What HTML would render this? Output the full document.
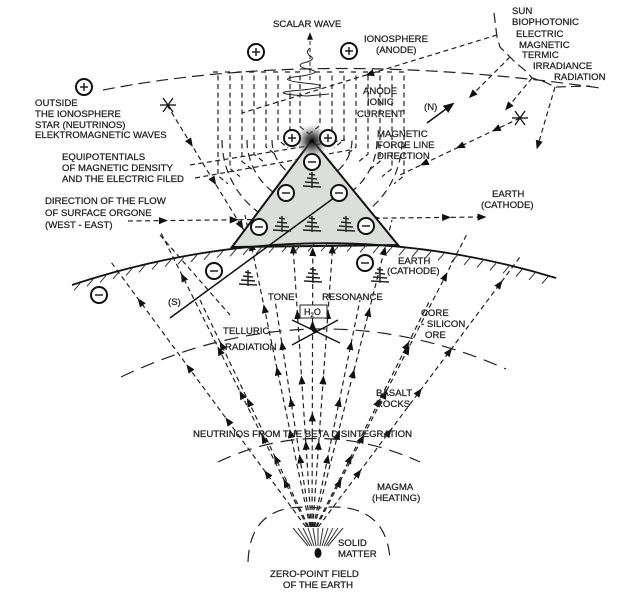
<!DOCTYPE html>
<html><head><meta charset="utf-8">
<style>
html,body{margin:0;padding:0;background:#fff;}
svg{display:block;}
text{font-family:"Liberation Sans",sans-serif;font-size:9.6px;fill:#222;stroke:#222;stroke-width:0.25;}
</style></head>
<body>
<svg id="s" width="629" height="598" viewBox="0 0 629 598" xmlns="http://www.w3.org/2000/svg">
<defs>
<marker id="a" viewBox="0 0 10 10" refX="5" refY="5" markerWidth="7.5" markerHeight="7.5" orient="auto">
<path d="M0,1 L10,5 L0,9 z" fill="#111"/></marker>
<radialGradient id="g"><stop offset="0" stop-color="#000"/><stop offset="0.35" stop-color="#333" stop-opacity="0.8"/><stop offset="1" stop-color="#888" stop-opacity="0"/></radialGradient>
</defs>
<g id="L" fill="none" stroke="#222" stroke-width="1.2" stroke-dasharray="5,3.5"></g>
<polygon points="312,140 232,247 398,245" fill="#dcdedb" stroke="#111" stroke-width="2"/>
<circle cx="312" cy="141" r="17" fill="url(#g)"/>
<path d="M72,285 Q315,205 556,278" fill="none" stroke="#111" stroke-width="1.8"/>
<g id="H" stroke="#333" stroke-width="1"></g>
<line x1="170" y1="318" x2="342" y2="192" stroke="#111" stroke-width="1.5"/>
<line x1="427" y1="123" x2="450" y2="106" stroke="#111" stroke-width="1.5" marker-end="url(#a)"/>
<line x1="310" y1="80" x2="310" y2="36" stroke="#222" stroke-width="1" stroke-dasharray="4,3" marker-end="url(#a)"/>
<path d="M310,48 q-5,4 0,8 q6,3 -3,6 q-14,3 0,7 q18,3 -5,7 q-30,3 2,7 q34,3 -2,7 q-40,3 5,6 l22,-2" fill="none" stroke="#222" stroke-width="1"/>
<rect x="300" y="305" width="27" height="13" fill="#fff" stroke="#222" stroke-width="1"/>
<text x="304" y="315" style="font-size:9px">H<tspan style="font-size:6px" dy="2">2</tspan><tspan dy="-2">O</tspan></text>
<line x1="292" y1="320" x2="340" y2="343" stroke="#111" stroke-width="1.3"/>
<line x1="338" y1="320" x2="292" y2="345" stroke="#111" stroke-width="1.3"/>
<circle cx="315" cy="331" r="2.2" fill="#111"/>
<ellipse cx="318" cy="553" rx="3.5" ry="5" fill="#111"/>
<g id="C"></g>
<g stroke="#111" stroke-width="1.3">
<line x1="160" y1="105" x2="176" y2="105"/><line x1="163" y1="98" x2="173" y2="112"/><line x1="173" y1="98" x2="163" y2="112"/>
<line x1="512" y1="118" x2="528" y2="118"/><line x1="515" y1="111" x2="525" y2="125"/><line x1="525" y1="111" x2="515" y2="125"/>
</g>
<text x="273" y="27">SCALAR WAVE</text>
<text x="364" y="42">IONOSPHERE</text><text x="376" y="53">(ANODE)</text>
<text x="512" y="14">SUN</text><text x="512" y="25">BIOPHOTONIC</text><text x="516" y="37">ELECTRIC</text>
<text x="519" y="48">MAGNETIC</text><text x="522" y="58">TERMIC</text><text x="533" y="69">IRRADIANCE</text><text x="554" y="80">RADIATION</text>
<text x="363" y="94">ANODE</text><text x="367" y="105">IONIC</text><text x="357" y="117">CURRENT</text>
<text x="424" y="110">(N)</text>
<text x="377" y="137">MAGNETIC</text><text x="377" y="148">FORCE LINE</text><text x="377" y="159">DIRECTION</text>
<text x="35" y="106">OUTSIDE</text><text x="35" y="117">THE IONOSPHERE</text><text x="35" y="128">STAR (NEUTRINOS)</text><text x="35" y="138">ELEKTROMAGNETIC WAVES</text>
<text x="62" y="160">EQUIPOTENTIALS</text><text x="62" y="171">OF MAGNETIC DENSITY</text><text x="62" y="182">AND THE ELECTRIC FILED</text>
<text x="45" y="204">DIRECTION OF THE FLOW</text><text x="45" y="216">OF SURFACE ORGONE</text><text x="45" y="228">(WEST - EAST)</text>
<text x="492" y="197">EARTH</text><text x="481" y="208">(CATHODE)</text>
<text x="398" y="264">EARTH</text><text x="387" y="274">(CATHODE)</text>
<text x="168" y="305">(S)</text>
<text x="268" y="300">TONE</text><text x="322" y="300">RESONANCE</text>
<text x="421" y="316">CORE</text><text x="421" y="327">- SILICON</text><text x="425" y="338">ORE</text>
<text x="223" y="334">TELLURIC</text><text x="225" y="350">RADIATION</text>
<text x="376" y="396">BASALT</text><text x="376" y="407">ROCKS</text>
<text x="193" y="437">NEUTRINOS FROM THE BETA DISINTEGRATION</text>
<text x="377" y="490">MAGMA</text><text x="372" y="501">(HEATING)</text>
<text x="338" y="546">SOLID</text><text x="338" y="557">MATTER</text>
<text x="270" y="577">ZERO-POINT FIELD</text><text x="283" y="588">OF THE EARTH</text>
</svg>
<script>
var NS="http://www.w3.org/2000/svg",L=document.getElementById('L'),C=document.getElementById('C'),H=document.getElementById('H');
function el(p,t,a){var e=document.createElementNS(NS,t);for(var k in a)e.setAttribute(k,a[k]);p.appendChild(e);return e;}
function ray(x1,y1,x2,y2,fr){el(L,'line',{x1:x1,y1:y1,x2:x2,y2:y2});
 (fr||[]).forEach(function(f){var x=x1+(x2-x1)*f,y=y1+(y2-y1)*f,dx=(x2-x1)*0.01,dy=(y2-y1)*0.01;
  el(L,'line',{x1:x-dx,y1:y-dy,x2:x,y2:y,'marker-end':'url(#a)','stroke-dasharray':'none'});});}
var F=[312,542];
var tops=[[111,262,.2,.4,.6,.85],[161,233,.15,.3,.45,.6,.85],[200,300],[245,215,.3,.5,.7,.9],[275,300],[290,200,.25,.45,.65,.85],[313,160,.3,.55,.75],[336,200,.25,.45,.65,.85],[360,300],[392,220,.3,.5,.7,.9],[430,300],[468,232,.15,.3,.45,.6,.85],[520,257,.2,.35,.5,.65,.9]];
tops.forEach(function(t){var fr=t.slice(2);if(!fr.length)fr=[.3,.55,.8];ray(F[0]+(t[0]-312)*0.03,F[1]-15,t[0],t[1],fr);});
el(L,'path',{d:'M103,90 Q320,48 600,88','stroke-dasharray':'12,6'});
var vx=[218,230,242,254,266,278,290,300,320,332,344,356,368,380,392,404];
vx.forEach(function(x,i){var d=Math.abs(x-311);var yb=120+d*0.6;el(L,'path',{d:'M'+(x-5)+',72 L'+x+',72 L'+x+','+yb+' L'+(x+(x<311?10:-10))+','+(yb+8)});});
[40,65,90].forEach(function(r){el(L,'path',{d:'M'+(312-r)+',140 A'+r+','+r+' 0 0 0 '+(312+r)+',140','stroke-dasharray':'8,5'});});
el(L,'path',{d:'M494,13 L497,37 L500,47 L510,57 L515,62 L527,72 L532,78 L545,82 L555,87 L590,86','stroke-dasharray':'10,5'});
ray(497,35,242,113,[.5]);ray(510,57,472,95,[1]);ray(532,78,508,107,[1]);ray(555,87,538,145,[1]);
ray(520,118,400,175,[.2,.5,.8]);
ray(167,105,245,232,[.3,.6,.95]);
ray(190,165,345,140,[]);ray(195,178,350,150,[]);
ray(128,221,482,217,[.1,.3,.5,.7,.9,1]);
ray(160,235,230,315,[]);
el(L,'path',{d:'M121,377 Q315,285 506,369','stroke-dasharray':'14,8'});
el(L,'path',{d:'M218,462 Q317,415 420,462','stroke-dasharray':'14,8'});
el(L,'path',{d:'M248,562 Q250,500 318,508 Q385,500 390,558','stroke-dasharray':'12,7'});
for(var x=80;x<552;x+=13){var t=(x-72)/(556-72);var y=(1-t)*(1-t)*285+2*t*(1-t)*205+t*t*278;el(H,'line',{x1:x,y1:y+1,x2:x-6,y2:y+8});}
function circ(x,y,s){el(C,'circle',{cx:x,cy:y,r:8,fill:'#fff',stroke:'#111','stroke-width':2});
 el(C,'line',{x1:x-4,y1:y,x2:x+4,y2:y,stroke:'#111','stroke-width':1.4});
 if(s)el(C,'line',{x1:x,y1:y-4,x2:x,y2:y+4,stroke:'#111','stroke-width':1.4});}
[[256,52],[349,51],[84,87],[292,138],[328,138]].forEach(function(p){circ(p[0],p[1],1);});
[[312,162],[286,193],[339,193],[259,227],[366,226],[214,271],[365,263],[99,295]].forEach(function(p){circ(p[0],p[1],0);});
function tree(x,y){var d='M'+x+','+(y-10)+' L'+x+','+(y+6);for(var i=0;i<4;i++){var w=3+i*2;d+=' M'+(x-w)+','+(y-8+i*4)+' L'+(x+w)+','+(y-7+i*4);}el(C,'path',{d:d,stroke:'#222','stroke-width':1.4,fill:'none'});}
[[312,182],[282,226],[312,226],[346,226],[248,280],[313,277],[380,277]].forEach(function(p){tree(p[0],p[1]);});
for(var i=-5;i<=5;i++){el(C,'line',{x1:318+i*2,y1:546,x2:318+i*5,y2:528,stroke:'#333','stroke-width':1});}
</script>
</body></html>
